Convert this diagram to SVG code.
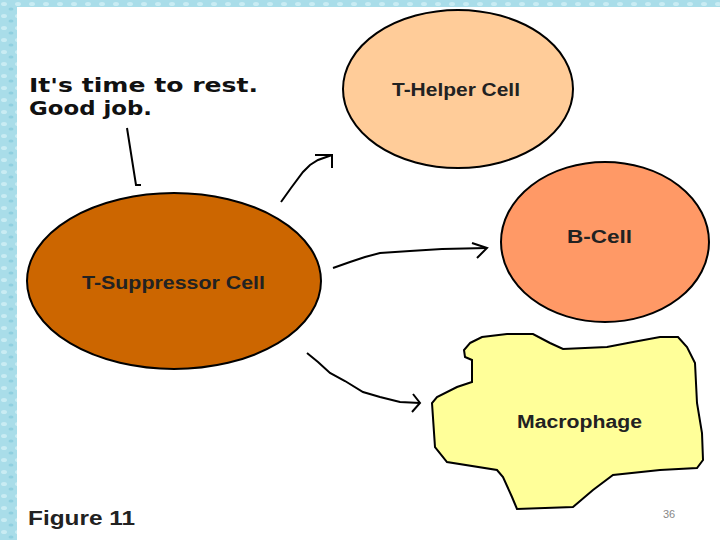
<svg xmlns="http://www.w3.org/2000/svg" width="720" height="540" viewBox="0 0 720 540">
  <defs>
    <pattern id="tex" width="14" height="12" patternUnits="userSpaceOnUse">
      <rect width="14" height="12" fill="#a9dde9"/>
      <ellipse cx="4" cy="4" rx="3" ry="2" fill="#c9ecf3"/>
      <ellipse cx="11" cy="9" rx="2.5" ry="1.6" fill="#8fcfdf"/>
    </pattern>
  </defs>
  <style>
    .cell { stroke: #000; stroke-width: 2; }
    .lbl { font-family: "Liberation Sans", Arial, sans-serif; font-weight: bold; font-size: 18px; fill: #222; }
    .con { fill: none; stroke: #000; stroke-width: 2; stroke-linejoin: miter; }
    .note { font-family: "Comic Sans MS", "DejaVu Sans", sans-serif; font-weight: bold; font-size: 19px; fill: #111; }
  </style>
  <rect x="0" y="0" width="720" height="540" fill="url(#tex)"/>
  <rect x="17" y="7" width="703" height="533" fill="#ffffff"/>

  <g id="note">
    <text class="note" x="29" y="92" textLength="229" lengthAdjust="spacingAndGlyphs">It's time to rest.</text>
    <text class="note" x="29" y="115" textLength="123" lengthAdjust="spacingAndGlyphs">Good job.</text>
  </g>

  <g id="t-helper">
    <ellipse class="cell" cx="458" cy="89" rx="115" ry="79" fill="#ffcc99"/>
    <text class="lbl" x="392" y="96" textLength="128" lengthAdjust="spacingAndGlyphs">T-Helper Cell</text>
  </g>

  <g id="b-cell">
    <ellipse class="cell" cx="605" cy="242" rx="104" ry="80" fill="#ff9966"/>
    <text class="lbl" x="567" y="243" textLength="65" lengthAdjust="spacingAndGlyphs">B-Cell</text>
  </g>

  <g id="t-suppressor">
    <ellipse class="cell" cx="174" cy="281" rx="147" ry="88" fill="#cc6600"/>
    <text class="lbl" x="82" y="289" textLength="183" lengthAdjust="spacingAndGlyphs">T-Suppressor Cell</text>
  </g>

  <g id="macrophage">
    <path class="cell" fill="#ffff99" d="M470,343 L482,337 L507,334 L533,334 L550,343 L563,349 L607,347 L633,342 L660,337 L678,337 L687,347 L695,363 L697,403 L702,433 L703,460 L697,468 L660,470 L613,475 L593,490 L573,507 L517,509 L512,497 L503,477 L497,470 L447,462 L435,447 L432,403 L437,397 L457,387 L472,382 L472,360 L465,357 L464,350 Z"/>
    <text class="lbl" x="517" y="428" textLength="125" lengthAdjust="spacingAndGlyphs">Macrophage</text>
  </g>

  <g id="connectors">
    <path class="con" d="M127,128 L136,185 L141,185"/>
    <path class="con" d="M281,202 L291,188 L303,172 L310,165 L318,160 L332,155"/>
    <path class="con" d="M315,155 L332,155 L332,168"/>
    <path class="con" d="M333,268 L350,262 L365,257 L380,253 L410,251 L442,249 L487,248"/>
    <path class="con" d="M472,243 L487,248 L477,258"/>
    <path class="con" d="M307,353 L318,362 L330,373 L345,381 L363,392 L380,397 L400,402 L420,403"/>
    <path class="con" d="M413,394 L420,403 L412,412"/>
  </g>

  <g id="caption">
    <text x="28" y="525" font-family="Liberation Sans, Arial, sans-serif" font-weight="bold" font-size="21" fill="#222" textLength="107" lengthAdjust="spacingAndGlyphs">Figure 11</text>
    <text x="663" y="518" font-family="Liberation Sans, Arial, sans-serif" font-size="11" fill="#888">36</text>
  </g>
</svg>
